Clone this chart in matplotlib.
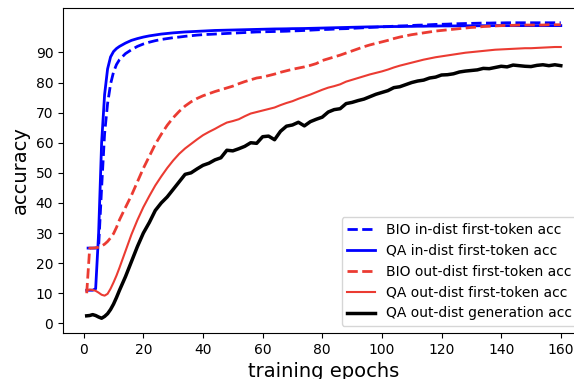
import numpy as np
import matplotlib
matplotlib.use('Agg')
import matplotlib.pyplot as plt

# epochs: every epoch at the start, then every 2 epochs
epochs = list(range(1, 13)) + list(range(14, 161, 2))

bio_in = [25, 25, 25, 25, 25.5, 45, 63, 73, 79.5, 83.5, 86, 87.6,
          89.6, 90.9, 92.0, 92.8, 93.4, 93.9, 94.3, 94.6, 94.9, 95.1, 95.35, 95.55, 95.75, 95.9,
          96.0, 96.1, 96.2, 96.3, 96.4, 96.5, 96.6, 96.7, 96.8, 96.85, 96.9, 96.95, 97.0, 97.05,
          97.15, 97.2, 97.3, 97.4, 97.5, 97.6, 97.65, 97.75, 97.85, 97.9, 98.0, 98.1, 98.2, 98.3,
          98.4, 98.5, 98.6, 98.7, 98.8, 98.85, 98.95, 99.05, 99.1, 99.2, 99.3, 99.35, 99.4, 99.5,
          99.55, 99.6, 99.65, 99.7, 99.75, 99.75, 99.8, 99.8, 99.85, 99.85, 99.85, 99.85, 99.85, 99.85,
          99.85, 99.85, 99.85, 99.85]

qa_in = [11, 11, 11, 11.5, 30, 60, 76, 84.5, 88.5, 90.3, 91.3, 92.0,
         93.1, 94.0, 94.6, 95.1, 95.5, 95.8, 96.1, 96.3, 96.5, 96.65, 96.8, 96.9, 97.0, 97.1,
         97.2, 97.3, 97.35, 97.4, 97.45, 97.5, 97.55, 97.6, 97.65, 97.7, 97.75, 97.8, 97.82, 97.85,
         97.9, 97.92, 97.95, 98.0, 98.05, 98.1, 98.15, 98.2, 98.25, 98.3, 98.35, 98.4, 98.45, 98.5,
         98.5, 98.55, 98.55, 98.6, 98.6, 98.65, 98.65, 98.7, 98.7, 98.75, 98.75, 98.8, 98.8, 98.8,
         98.82, 98.85, 98.85, 98.85, 98.87, 98.88, 98.9, 98.9, 98.9, 98.9, 98.9, 98.9, 98.9, 98.9,
         98.9, 98.9, 98.9, 98.9]

bio_out = [10, 25, 25, 25.1, 25.3, 25.7, 26.3, 27.2, 28.4, 29.8, 31.9, 34.4,
           38.5, 42.5, 47, 51.5, 55.5, 59.5, 62.8, 65.8, 68.3, 70.4, 72.2, 73.6, 74.7, 75.6,
           76.3, 77.0, 77.6, 78.2, 78.8, 79.6, 80.3, 80.9, 81.5, 81.8, 82.3, 82.8, 83.4, 83.9,
           84.4, 84.8, 85.2, 85.7, 86.3, 87.3, 87.9, 88.5, 89.1, 89.8, 90.5, 91.2, 91.9, 92.5,
           93.0, 93.5, 94.0, 94.6, 95.1, 95.5, 95.9, 96.2, 96.5, 96.8, 97.1, 97.3, 97.5, 97.7,
           97.9, 98.1, 98.3, 98.4, 98.6, 98.7, 98.8, 98.9, 99.0, 99.0, 99.1, 99.1, 99.1, 99.1,
           99.1, 99.2, 99.2, 99.2]

qa_out = [11, 11.2, 11.1, 10.8, 10.2, 9.5, 9.2, 9.8, 11.5, 13.6, 15.9, 18.5,
          24, 29.5, 34.3, 38.6, 42.3, 45.8, 48.8, 51.6, 54.1, 56.3, 58.1, 59.6, 61.1, 62.5,
          63.6, 64.6, 65.7, 66.7, 67.2, 67.8, 68.8, 69.7, 70.2, 70.7, 71.2, 71.7, 72.5, 73.2,
          73.8, 74.6, 75.3, 76.0, 76.8, 77.6, 78.3, 78.8, 79.4, 80.3, 80.9, 81.5, 82.1, 82.7,
          83.2, 83.7, 84.3, 85.0, 85.6, 86.1, 86.6, 87.1, 87.6, 88.0, 88.4, 88.7, 89.0, 89.3,
          89.6, 89.9, 90.1, 90.3, 90.5, 90.7, 90.9, 91.0, 91.1, 91.2, 91.3, 91.4, 91.4, 91.5,
          91.6, 91.7, 91.8, 91.8]

qa_gen = [2.5, 2.6, 2.9, 2.6, 2.1, 1.7, 2.3, 3.2, 4.6, 6.4, 8.6, 11,
          15.5, 20.5, 25.5, 30, 33.5, 37.5, 40, 42, 44.5, 47, 49.5, 50, 51.3, 52.5,
          53.2, 54.3, 55, 57.5, 57.3, 58, 58.8, 60, 59.8, 62, 62.2, 61, 63.8, 65.5,
          65.9, 66.8, 65.6, 67, 67.8, 68.5, 70.2, 71, 71.3, 73, 73.4, 74, 74.5, 75.3,
          76.1, 76.7, 77.3, 78.3, 78.6, 79.3, 80, 80.5, 80.8, 81.5, 81.8, 82.5, 82.6, 82.9,
          83.5, 83.8, 84, 84.2, 84.7, 84.6, 85, 85.4, 85.2, 85.8, 85.6, 85.4, 85.3, 85.7,
          85.9, 85.6, 85.9, 85.6]

red = '#eb3b32'

fig = plt.figure(figsize=(5.74, 3.79), dpi=100)
# the original figure is cropped on the right, so the axes run past the edge
ax = fig.add_axes([63 / 574, 46 / 379, 521.5 / 574, 325 / 379])

ax.plot(epochs, bio_in, color='blue', linestyle='--', lw=2, label='BIO in-dist first-token acc')
ax.plot(epochs, qa_in, color='blue', lw=2, label='QA in-dist first-token acc')
ax.plot(epochs, bio_out, color=red, linestyle='--', lw=2, label='BIO out-dist first-token acc')
ax.plot(epochs, qa_out, color=red, lw=1.5, label='QA out-dist first-token acc')
ax.plot(epochs, qa_gen, color='black', lw=2.5, label='QA out-dist generation acc')

ax.set_xticks(range(0, 161, 20))
ax.set_yticks(range(0, 91, 10))
ax.tick_params(labelsize=10)
ax.set_xlabel('training epochs', fontsize=14)
ax.set_ylabel('accuracy', fontsize=14)
ax.legend(loc='lower right', fontsize=10)

fig.savefig('out.png', dpi=100)
